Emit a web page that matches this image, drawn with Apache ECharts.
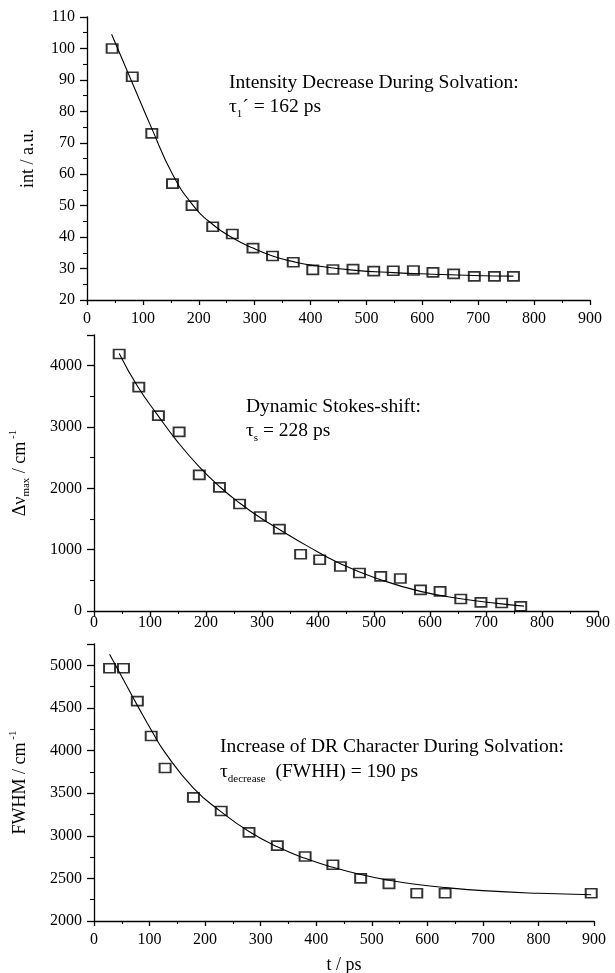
<!DOCTYPE html>
<html>
<head>
<meta charset="utf-8">
<script src="https://cdn.jsdelivr.net/npm/echarts@6/dist/echarts.min.js"></script>
<style>
  html, body { margin: 0; padding: 0; background: #fff; }
  #chart { width: 615px; height: 973px; }
</style>
</head>
<body>
<div id="chart"></div>
<script>
// Panel 1: intensity decrease
const intTimes = [45, 81, 116, 153, 188, 225, 260, 297, 332, 369, 404, 440, 476, 513, 548, 584, 619, 656, 693, 729, 763];
const intValues = [100, 91, 73, 57, 50, 43.3, 41, 36.5, 34, 32, 29.6, 29.7, 29.8, 29.2, 29.3, 29.4, 28.8, 28.3, 27.5, 27.5, 27.5];
const intFitTimes = [44, 80, 116, 153, 188, 225, 260, 297, 332, 369, 404, 476, 548, 619, 693, 763];
const intFitValues = [104.5, 89.5, 74.5, 60, 50.5, 44, 39.8, 36.5, 34, 32.2, 31, 29.5, 28.7, 28.2, 27.8, 27.6];

// Panel 2: dynamic Stokes shift
const shiftTimes = [45, 80, 115, 152, 188, 224, 260, 297, 331, 369, 403, 440, 474, 512, 547, 583, 618, 655, 691, 728, 762];
const shiftValues = [4190, 3650, 3185, 2920, 2220, 2015, 1745, 1540, 1335, 925, 835, 725, 620, 565, 530, 345, 320, 195, 140, 130, 75];
const shiftFitTimes = [45, 78, 114, 150, 188, 224, 260, 297, 331, 379, 440, 512, 583, 655, 720, 768];
const shiftFitValues = [4200, 3660, 3190, 2750, 2350, 2030, 1760, 1520, 1330, 1070, 770, 510, 320, 200, 125, 80];

// Panel 3: FWHM
const fwhmTimes = [28, 53, 78, 103, 128, 179, 229, 279, 330, 380, 430, 480, 531, 581, 632, 895];
const fwhmValues = [4965, 4965, 4580, 4170, 3795, 3450, 3290, 3040, 2885, 2757, 2660, 2500, 2435, 2325, 2325, 2325];
const fwhmFitTimes = [28, 53, 78, 103, 128, 179, 229, 279, 330, 380, 430, 480, 531, 582, 632, 700, 800, 895];
const fwhmFitValues = [5130, 4830, 4530, 4240, 3975, 3560, 3280, 3050, 2870, 2735, 2630, 2545, 2478, 2428, 2392, 2356, 2325, 2308];

const FONT = "'Liberation Serif', 'Times New Roman', serif";
const zip = (xs, ys) => xs.map((x, i) => [x, ys[i]]);

function richStyles(size) {
  return {
    t: { fontSize: size, fontFamily: FONT, color: '#000', lineHeight: size + 6, verticalAlign: 'middle' },
    s: { fontSize: 11, fontFamily: FONT, color: '#000', lineHeight: 12, verticalAlign: 'bottom' },
    p: { fontSize: 11, fontFamily: FONT, color: '#000', lineHeight: 12, verticalAlign: 'top' }
  };
}

function xAxis(gridIndex, labelMargin, extra) {
  return Object.assign({
    type: 'value',
    gridIndex: gridIndex,
    min: 0,
    max: 900,
    interval: 100,
    axisLine: { lineStyle: { color: '#000', width: 1.3 } },
    axisTick: { length: 5, lineStyle: { color: '#000', width: 1.3 } },
    minorTick: { show: true, splitNumber: 2, length: 3, lineStyle: { color: '#000', width: 1.1 } },
    splitLine: { show: false },
    axisLabel: { color: '#000', fontSize: 16, fontFamily: FONT, margin: labelMargin, formatter: v => String(v) }
  }, extra || {});
}

function yAxis(gridIndex, min, max, interval, name, nameGap) {
  return {
    type: 'value',
    gridIndex: gridIndex,
    min: min,
    max: max,
    interval: interval,
    name: name,
    nameLocation: 'middle',
    nameGap: nameGap,
    nameRotate: 90,
    nameTextStyle: { color: '#000', fontSize: 18, fontFamily: FONT, rich: richStyles(18) },
    axisLine: { show: true, lineStyle: { color: '#000', width: 1.3 } },
    axisTick: { length: 7, lineStyle: { color: '#000', width: 1.3 } },
    minorTick: { show: true, splitNumber: 2, length: 4, lineStyle: { color: '#000', width: 1.1 } },
    splitLine: { show: false },
    axisLabel: {
      color: '#000', fontSize: 16, fontFamily: FONT, margin: 12,
      showMaxLabel: max % interval === 0,
      formatter: v => String(v)
    }
  };
}

function points(idx, data) {
  return {
    type: 'scatter',
    xAxisIndex: idx,
    yAxisIndex: idx,
    data: data,
    symbol: 'rect',
    symbolSize: [11, 9],
    itemStyle: { color: 'rgba(0,0,0,0)', borderColor: '#000', borderWidth: 1.8 },
    z: 3
  };
}

function fit(idx, data) {
  return {
    type: 'line',
    xAxisIndex: idx,
    yAxisIndex: idx,
    data: data,
    showSymbol: false,
    smooth: 0.5,
    lineStyle: { color: '#000', width: 1.1 },
    z: 2
  };
}

function note(x, y, text) {
  return {
    type: 'text',
    x: x,
    y: y,
    style: {
      text: text,
      rich: richStyles(19.5),
      fontSize: 19.5,
      fontFamily: FONT,
      fill: '#000',
      verticalAlign: 'middle'
    }
  };
}

const chart = echarts.init(document.getElementById('chart'));
chart.setOption({
  backgroundColor: '#fff',
  animation: false,
  grid: [
    { left: 87, top: 17, width: 503, height: 283, outerBoundsMode: 'none' },
    { left: 94, top: 335, width: 504, height: 276, outerBoundsMode: 'none' },
    { left: 94, top: 644, width: 500, height: 277, outerBoundsMode: 'none' }
  ],
  xAxis: [
    xAxis(0, 11),
    xAxis(1, 4),
    xAxis(2, 11, {
      name: 't / ps',
      nameLocation: 'middle',
      nameGap: 35,
      nameTextStyle: { color: '#000', fontSize: 18, fontFamily: FONT }
    })
  ],
  yAxis: [
    yAxis(0, 20, 110, 10, 'int / a.u.', 50),
    yAxis(1, 0, 4500, 1000, '{t|Δν}{s|max}{t| / cm}{p| -1}', 62),
    yAxis(2, 2000, 5250, 500, '{t|FWHM / cm}{p| -1}', 62)
  ],
  series: [
    fit(0, zip(intFitTimes, intFitValues)),
    points(0, zip(intTimes, intValues)),
    fit(1, zip(shiftFitTimes, shiftFitValues)),
    points(1, zip(shiftTimes, shiftValues)),
    fit(2, zip(fwhmFitTimes, fwhmFitValues)),
    points(2, zip(fwhmTimes, fwhmValues))
  ],
  graphic: [
    note(229, 83, '{t|Intensity Decrease During Solvation:}'),
    note(229, 107, '{t|τ}{s|1}{t|´ = 162 ps}'),
    note(246, 407, '{t|Dynamic Stokes-shift:}'),
    note(246, 431, '{t|τ}{s|s}{t| = 228 ps}'),
    note(220, 747, '{t|Increase of DR Character During Solvation:}'),
    note(220, 772, '{t|τ}{s|decrease}{t|  (FWHH) = 190 ps}')
  ]
});
</script>
</body>
</html>
